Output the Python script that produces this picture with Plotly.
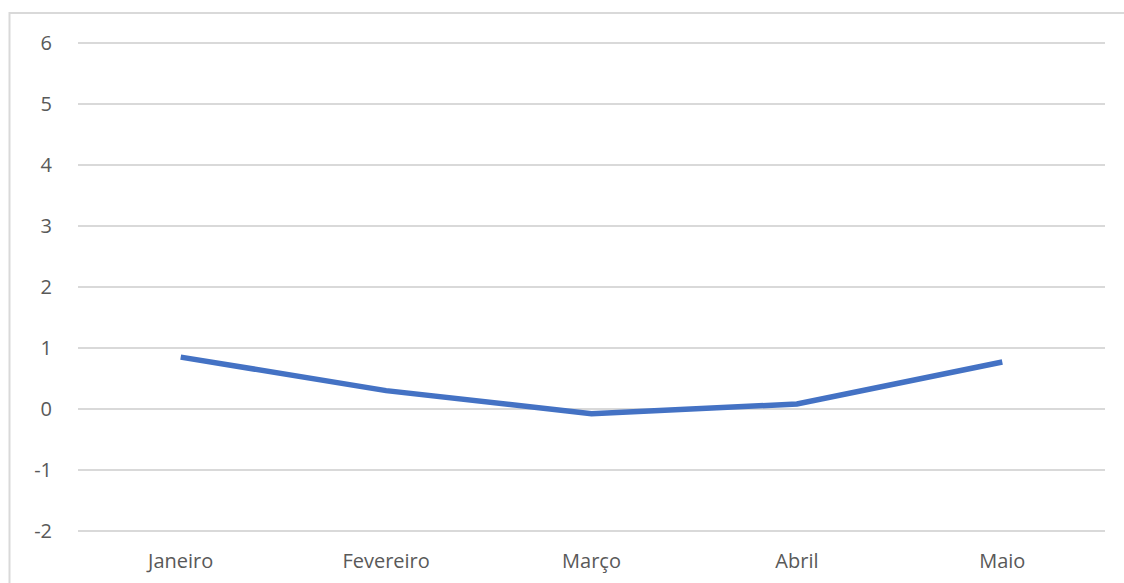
import plotly.graph_objects as go

# Monthly series
meses = ["Janeiro", "Fevereiro", "Março", "Abril", "Maio"]
valores = [0.85, 0.30, -0.08, 0.08, 0.77]
y_ticks = [-2, -1, 0, 1, 2, 3, 4, 5, 6]
y_tick_labels = [str(v) for v in y_ticks]  # plain hyphen for negatives

fig = go.Figure()
fig.add_trace(go.Scatter(
    x=meses,
    y=valores,
    mode="lines",
    line=dict(color="#4472C4", width=5.5),
    hoverinfo="x+y",
))

font_color = "#595959"
pad = 0.02  # keep the outer gridlines (-2 and 6) inside the plotting area
fig.update_layout(
    width=1124,
    height=583,
    margin=dict(l=78, r=19, t=42, b=51, autoexpand=False),
    paper_bgcolor="white",
    plot_bgcolor="white",
    showlegend=False,
    font=dict(family="Open Sans", size=20, color=font_color),
    xaxis=dict(
        type="category",
        range=[-0.5, len(meses) - 0.5],
        showgrid=False,
        showline=False,
        zeroline=False,
        ticks="",
        automargin=False,
        ticklabelstandoff=15,
        tickfont=dict(size=20, color=font_color),
    ),
    yaxis=dict(
        range=[y_ticks[0] - pad, y_ticks[-1] + pad],
        tickvals=y_ticks,
        ticktext=y_tick_labels,
        showgrid=True,
        gridcolor="#D9D9D9",
        gridwidth=1.5,
        zeroline=False,
        showline=False,
        ticks="",
        automargin=False,
        ticklabelstandoff=25,
        tickfont=dict(size=20, color=font_color),
    ),
    shapes=[dict(
        type="rect",
        xref="paper", yref="paper",
        x0=-0.0667, x1=1.03, y0=-0.2, y1=1.0594,
        line=dict(color="#D9D9D9", width=2),
        fillcolor="rgba(0,0,0,0)",
        layer="below",
    )],
)

fig.write_html("out.html")
